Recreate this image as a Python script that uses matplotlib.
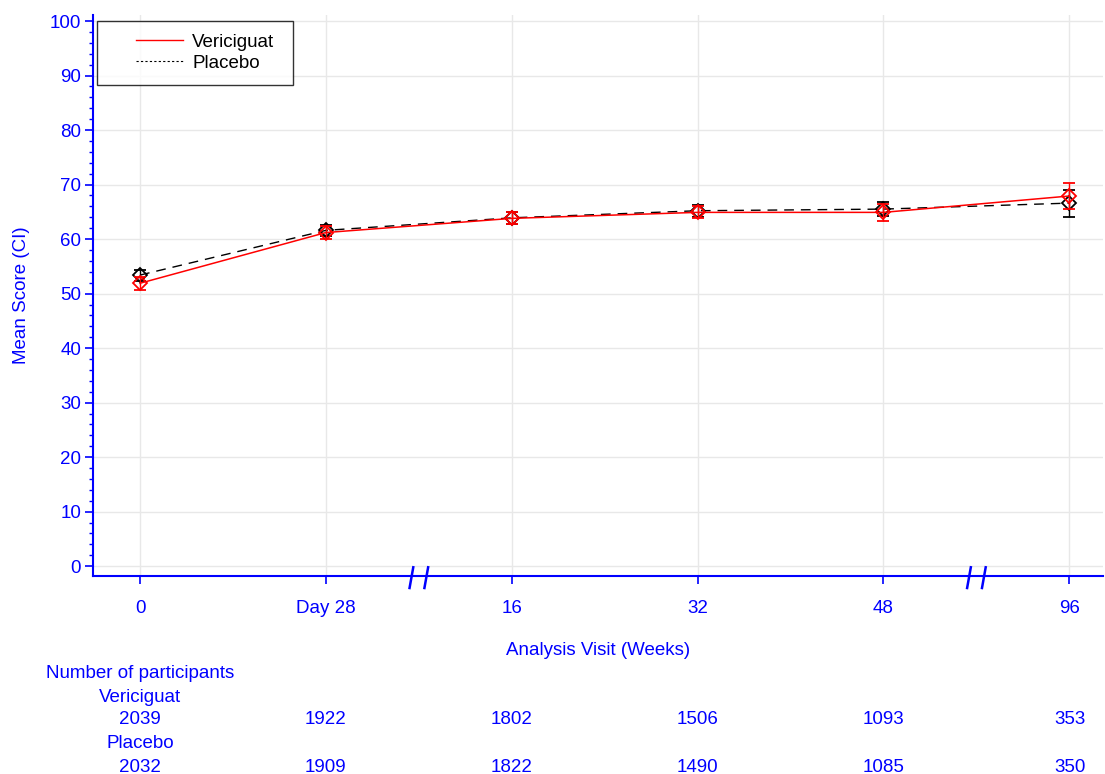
import numpy as np
import matplotlib.pyplot as plt
from matplotlib.ticker import MultipleLocator
from matplotlib.legend_handler import HandlerLine2D

plt.rcParams['font.family'] = ['Liberation Sans', 'DejaVu Sans']

# visits and values
visits = ['0', 'Day 28', '16', '32', '48', '96']
veri_mean = [51.9, 61.2, 63.8, 64.9, 64.9, 67.9]
veri_lo = [50.7, 60.0, 62.7, 63.8, 63.4, 65.5]
veri_hi = [53.1, 62.4, 64.9, 66.0, 66.4, 70.3]
plac_mean = [53.4, 61.6, 63.9, 65.2, 65.5, 66.6]
plac_lo = [52.4, 60.5, 62.8, 64.1, 64.3, 64.1]
plac_hi = [54.4, 62.6, 65.0, 66.3, 66.8, 69.0]
n_veri = [2039, 1922, 1802, 1506, 1093, 353]
n_plac = [2032, 1909, 1822, 1490, 1085, 350]
breaks = [1.5, 4.5]

blue = '#0000ff'
fs = 13.5
x = np.arange(len(visits))


class ShortLine(HandlerLine2D):
    # legend line only on the right part of the handle box
    def create_artists(self, legend, orig_handle, xdescent, ydescent,
                       width, height, fontsize, trans):
        arts = super().create_artists(legend, orig_handle, xdescent, ydescent,
                                      width, height, fontsize, trans)
        for a in arts:
            xd = np.asarray(a.get_xdata(), dtype=float)
            if len(xd) >= 2:
                x0 = xd[0] + 0.36 * (xd[-1] - xd[0])
                a.set_xdata(np.linspace(x0, xd[-1], len(xd)))
        return arts


fig = plt.figure(figsize=(11.05, 7.74), dpi=100)
ax = fig.add_axes([0.0842, 0.2558, 0.9138, 0.7248])

vm = np.array(veri_mean)
pm = np.array(plac_mean)
ax.errorbar(x, vm, yerr=[vm - np.array(veri_lo), np.array(veri_hi) - vm],
            color='red', lw=1.1, capsize=4.5, elinewidth=1, marker='D', ms=7,
            mfc='none', mec='red', mew=1.3, zorder=3)
ax.errorbar(x, pm, yerr=[pm - np.array(plac_lo), np.array(plac_hi) - pm],
            color='black', lw=1.0, ls=(0, (7, 5)), capsize=4.5, elinewidth=1,
            marker='D', ms=7, mfc='none', mec='black', mew=1.3, zorder=2)

# legend handles
h1, = ax.plot([], [], color='red', lw=1)
h2, = ax.plot([], [], color='black', lw=0.8, ls=(0, (2, 2)))
leg = ax.legend([h1, h2], ['Vericiguat', 'Placebo'], loc='upper left',
                bbox_to_anchor=(0.004, 0.767, 0.194, 0.222), mode='expand',
                fontsize=fs, frameon=True, fancybox=False, edgecolor='black',
                handlelength=3.9, borderpad=0.68, labelspacing=0.2,
                borderaxespad=0, handletextpad=0.5,
                handler_map={h1: ShortLine(), h2: ShortLine()})
leg.get_frame().set_linewidth(1.0)

ax.set_xlim(-0.253, 5.18)
ax.set_ylim(-1.8, 101.1)
ax.set_xticks(x)
ax.set_xticklabels(visits)
ax.yaxis.set_major_locator(MultipleLocator(10))
ax.yaxis.set_minor_locator(MultipleLocator(2))
ax.grid(True, color='#e8e8e8', lw=1)
ax.set_axisbelow(True)

for s in ['top', 'right']:
    ax.spines[s].set_visible(False)
for s in ['left', 'bottom']:
    ax.spines[s].set_color(blue)
    ax.spines[s].set_linewidth(1.5)
ax.tick_params(axis='both', colors=blue, labelcolor=blue, labelsize=fs,
               direction='out', length=6, width=1.2)
ax.tick_params(axis='y', which='minor', colors=blue, length=3, width=1)
ax.tick_params(axis='x', pad=11)
ax.tick_params(axis='y', pad=2.5)

# axis break marks
for b in breaks:
    for off in (-0.04, 0.04):
        ax.plot([b + off - 0.01, b + off + 0.01], [-4.0, -0.2], color=blue,
                lw=1.8, clip_on=False, zorder=5)

ax.set_ylabel('Mean Score (CI)', color=blue, fontsize=fs, labelpad=14)
ax.set_xlabel('Analysis Visit (Weeks)', color=blue, fontsize=fs, labelpad=18)

# number of participants table
fig.text(46 / 1105, 1 - 674 / 774, 'Number of participants', color=blue,
         fontsize=fs, va='center', ha='left')
fig.text(140 / 1105, 1 - 697 / 774, 'Vericiguat', color=blue,
         fontsize=fs, va='center', ha='center')
fig.text(140 / 1105, 1 - 744 / 774, 'Placebo', color=blue,
         fontsize=fs, va='center', ha='center')
for xi, a, b in zip(x, n_veri, n_plac):
    xf = (93 + (xi + 0.253) / (5.18 + 0.253) * 1010) / 1105
    fig.text(xf, 1 - 720 / 774, str(a), color=blue, fontsize=fs,
             ha='center', va='center')
    fig.text(xf, 1 - 767 / 774, str(b), color=blue, fontsize=fs,
             ha='center', va='center')

fig.savefig('out.png', dpi=100)
